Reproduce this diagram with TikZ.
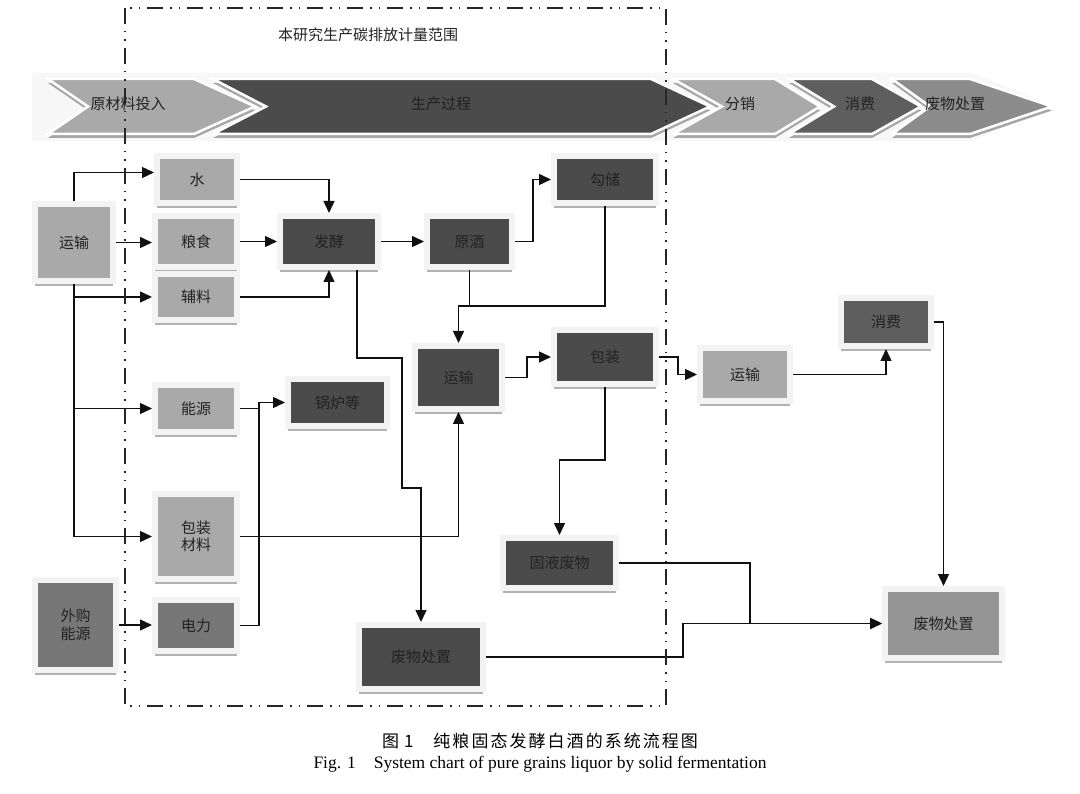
\documentclass[tikz,border=0pt]{standalone}
\usepackage{fontspec}
\setmainfont{Liberation Serif}
\newfontfamily\cjk{Noto Sans CJK SC}
\newfontfamily\cjkcap[LetterSpace=12]{Noto Sans CJK SC}
\usetikzlibrary{arrows.meta,calc,shadows}
\definecolor{lightb}{HTML}{A9A9A9}
\definecolor{darkb}{HTML}{4B4B4B}
\definecolor{midb}{HTML}{777777}
\definecolor{consb}{HTML}{5E5E5E}
\definecolor{wasteb}{HTML}{959595}
\definecolor{wchev}{HTML}{8C8C8C}
\definecolor{framec}{HTML}{F3F3F3}
\definecolor{bandc}{HTML}{F7F7F7}
\definecolor{txt}{HTML}{222222}
\definecolor{lnc}{HTML}{111111}
\begin{document}
\begin{tikzpicture}[x=1pt,y=-1pt,
  box/.style={draw=framec, line width=6pt, inner sep=0pt, text=txt,
    font=\cjk\fontsize{15}{17.5}\selectfont, align=center,
    drop shadow={shadow xshift=0pt, shadow yshift=-5pt, fill=black!30, opacity=1}},
  conn/.style={line width=1.4pt, draw=lnc},
  arr/.style={conn, -{Triangle[length=12pt,width=11pt]}},
  chev/.style={draw=white, line width=2.5pt, line join=miter},
  chevsh/.style={fill=black!35, draw=none},
  bantext/.style={font=\cjk\fontsize{15}{18}\selectfont, text=txt},
  scopebox/.style={line width=1.4pt, draw=black!85,
    dash pattern=on 16pt off 7pt on 1.5pt off 7pt on 1.5pt off 7pt}
]
\fill[white] (0,0) rectangle (1080,794);
\useasboundingbox (0,0) rectangle (1080,794);

% ---------- banner ----------
\fill[bandc] (32,73) -- (972,73) -- (1054,106.5) -- (972,141) -- (32,141) -- cycle;
\begin{scope}[yshift=-4pt]
\fill[chevsh] (48,79) -- (194,79) -- (255,106.5) -- (194,134) -- (48,134) -- (88,106.5) -- cycle;
\fill[chevsh] (213,79) -- (651,79) -- (710,106.5) -- (651,134) -- (213,134) -- (266,106.5) -- cycle;
\fill[chevsh] (673,79) -- (775,79) -- (820,106.5) -- (775,134) -- (673,134) -- (722,106.5) -- cycle;
\fill[chevsh] (789,79) -- (872,79) -- (921,106.5) -- (872,134) -- (789,134) -- (834,106.5) -- cycle;
\fill[chevsh] (892,79) -- (970,79) -- (1052,106.5) -- (970,134) -- (892,134) -- (930,106.5) -- cycle;
\end{scope}
\filldraw[chev, fill=lightb] (48,79) -- (194,79) -- (255,106.5) -- (194,134) -- (48,134) -- (88,106.5) -- cycle;
\filldraw[chev, fill=darkb] (213,79) -- (651,79) -- (710,106.5) -- (651,134) -- (213,134) -- (266,106.5) -- cycle;
\filldraw[chev, fill=lightb] (673,79) -- (775,79) -- (820,106.5) -- (775,134) -- (673,134) -- (722,106.5) -- cycle;
\filldraw[chev, fill=consb] (789,79) -- (872,79) -- (921,106.5) -- (872,134) -- (789,134) -- (834,106.5) -- cycle;
\filldraw[chev, fill=wchev] (892,79) -- (970,79) -- (1052,106.5) -- (970,134) -- (892,134) -- (930,106.5) -- cycle;
\node[bantext] (b1) at (128,104) {原材料投入};
\node[bantext] (b2) at (441,104) {生产过程};
\node[bantext] (b3) at (740,104) {分销};
\node[bantext] (b4) at (860,104) {消费};
\node[bantext] (b5) at (955,104) {废物处置};

% ---------- boxes ----------
\node[box, fill=lightb, minimum width=78pt, minimum height=77pt] (tL) at (74,242.5) {运输};
\node[box, fill=lightb, minimum width=80pt, minimum height=47pt] (water) at (197,179.5) {水};
\node[box, fill=lightb, minimum width=82pt, minimum height=51pt] (grain) at (196,241.5) {粮食};
\node[box, fill=lightb, minimum width=82pt, minimum height=46pt] (aux) at (196,297) {辅料};
\node[box, fill=darkb, minimum width=98pt, minimum height=51pt] (ferm) at (329,241.5) {发酵};
\node[box, fill=darkb, minimum width=85pt, minimum height=51pt] (raw) at (469.5,241.5) {原酒};
\node[box, fill=darkb, minimum width=102pt, minimum height=47pt] (blend) at (605,179.5) {勾储};
\node[box, fill=darkb, minimum width=87pt, minimum height=63pt] (tM) at (458.5,377.5) {运输};
\node[box, fill=darkb, minimum width=102pt, minimum height=54pt] (pack) at (605,357) {包装};
\node[box, fill=lightb, minimum width=90pt, minimum height=53pt] (tR) at (745,374.5) {运输};
\node[box, fill=consb, minimum width=90pt, minimum height=48pt] (cons) at (886,322) {消费};
\node[box, fill=wasteb, minimum width=117pt, minimum height=69pt] (wasteR) at (943.5,623.5) {废物处置};
\node[box, fill=lightb, minimum width=82pt, minimum height=47pt] (energy) at (196,408.5) {能源};
\node[box, fill=darkb, minimum width=99pt, minimum height=47pt] (boiler) at (337.5,402.5) {锅炉等};
\node[box, fill=lightb, minimum width=82pt, minimum height=85pt] (packmat) at (196,536.5) {包装\\材料};
\node[box, fill=midb, minimum width=81pt, minimum height=90pt] (buy) at (75.5,625) {外购\\能源};
\node[box, fill=midb, minimum width=82pt, minimum height=51pt] (elec) at (196,625.5) {电力};
\node[box, fill=darkb, minimum width=113pt, minimum height=50pt] (solid) at (559.5,563) {固液废物};
\node[box, fill=darkb, minimum width=124pt, minimum height=64pt] (wasteM) at (421,657) {废物处置};

\coordinate (jy) at (0,306);

% ---------- connectors ----------
\draw[arr] (tL.north) |- ([yshift=7pt]water.west);
\draw[arr] (tL.east) -- (tL.east -| grain.west);
\draw[arr] (tL.south) |- (aux.west);
\draw[arr] (tL.south) |- (energy.west);
\draw[arr] (tL.south) |- (packmat.west);
\draw[arr] (water.east) -| (ferm.north);
\draw[arr] (grain.east) -- (ferm.west);
\draw[arr] (aux.east) -| (ferm.south);
\draw[arr] (ferm.east) -- (raw.west);
\draw[arr] (raw.east) -- ++(18,0) |- (blend.west);
\draw[conn] (raw.south) -- (raw.south |- jy);
\draw[arr] (blend.south) -- (blend.south |- jy) -| (tM.north);
\draw[arr] (tM.east) -- ++(22,0) |- (pack.west);
\draw[arr] (pack.east) -- ++(19,0) |- (tR.west);
\draw[arr] (tR.east) -| (cons.south);
\draw[arr] (cons.east) -| (wasteR.north);
\draw[arr] (energy.east) -- ++(19,0) |- (boiler.west);
\draw[conn] (elec.east) -| ([xshift=19pt]energy.east);
\draw[arr] (packmat.east) -| (tM.south);
\draw[arr] ([xshift=28pt]ferm.south) -- ++(0,88) -- ++(45,0) -- ++(0,130) -| (wasteM.north);
\draw[arr] (pack.south) -- ++(0,73) -| (solid.north);
\draw[arr] (solid.east) -- ++(131,0) |- (wasteR.west);
\draw[arr] (wasteM.east) -- ++(197,0) |- (wasteR.west);
\draw[arr] (buy.east) -- (buy.east -| elec.west);

% ---------- scope boundary ----------
\draw[scopebox] (125,8) rectangle (666,706);
\node[font=\cjk\fontsize{15}{18}\selectfont, text=txt] (title) at (368,35) {本研究生产碳排放计量范围};

% ---------- caption ----------
\node[font=\cjkcap\fontsize{17}{20}\selectfont] (cap1) at (540,741) {图\hspace{5pt}1\hspace{20pt}纯粮固态发酵白酒的系统流程图};
\node[font=\fontsize{17.5}{20}\selectfont] (cap2) at (540,764) {Fig. 1\hspace{18pt}System chart of pure grains liquor by solid fermentation};
\end{tikzpicture}
\end{document}
